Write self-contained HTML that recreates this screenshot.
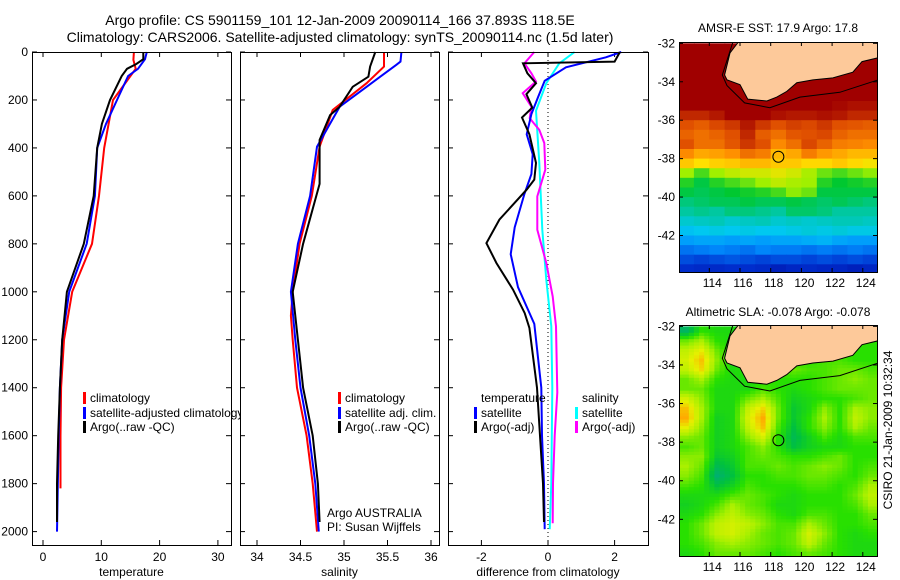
<!DOCTYPE html>
<html><head><meta charset="utf-8">
<style>
html,body{margin:0;padding:0;background:#fff;}
svg{display:block;font-family:"Liberation Sans",sans-serif;}
text{fill:#000;}
</style></head>
<body>
<svg id="fig" width="900" height="580" viewBox="0 0 900 580" xmlns="http://www.w3.org/2000/svg">
<rect width="900" height="580" fill="#fff"/>
<text x="340" y="25" font-size="14" text-anchor="middle">Argo profile: CS 5901159_101 12-Jan-2009 20090114_166 37.893S 118.5E</text>
<text x="340" y="42" font-size="14" text-anchor="middle">Climatology: CARS2006. Satellite-adjusted climatology: synTS_20090114.nc (1.5d later)</text>
<g id="g1"></g>
<g id="g2"></g>
<g id="g3"></g>
<g id="m1"></g>
<g id="m2"></g>
<text transform="translate(892,430) rotate(-90)" font-size="12" text-anchor="middle">CSIRO 21-Jan-2009 10:32:34</text>
</svg>
<script>
// ---- data ----
const tempClimDepth=[0,33,70,200,400,600,800,1000,1200,1400,1600,1820];
const tempClim=[15.6,15.5,15.9,12.0,10.5,9.6,8.4,5.0,3.6,3.1,3.0,3.0];
const tempSatDepth=[0,30,70,100,200,300,400,600,800,1000,1200,1400,1600,2000];
const tempSat=[17.8,17.5,16.3,14.6,12.7,10.8,9.3,8.9,7.5,4.5,3.3,2.9,2.7,2.4];
const tempArgoDepth=[0,30,50,70,100,200,300,400,600,800,1000,1200,1400,1600,1800,1960];
const tempArgo=[17.2,17.2,16.0,14.4,13.5,11.5,10.1,9.3,8.7,7.0,4.1,3.3,2.9,2.6,2.4,2.4];

const salClimDepth=[0,61,130,242,395,600,800,1000,1100,1200,1400,1600,1800,2000];
const salClim=[35.46,35.46,35.26,34.87,34.72,34.63,34.49,34.41,34.39,34.41,34.46,34.57,34.64,34.69];
const salSatDepth=[0,40,54,145,228,395,600,800,1000,1200,1400,1600,1800,2000];
const salSat=[35.66,35.65,35.6,35.26,34.95,34.69,34.61,34.47,34.39,34.44,34.5,34.6,34.67,34.71];
const salArgoDepth=[0,61,103,145,228,263,367,550,800,1000,1200,1400,1600,1800,1960];
const salArgo=[35.36,35.3,35.28,35.1,34.95,34.84,34.72,34.72,34.53,34.41,34.47,34.53,34.64,34.7,34.72];

const dTempArgoDepth=[0,40,47,89,130,176,232,273,343,463,532,574,699,797,880,991,1089,1151,1400,1600,1800,1960];
const dTempArgo=[2.16,2.0,-0.75,-0.62,-0.36,-0.65,-0.47,-0.78,-0.56,-0.36,-0.41,-0.64,-1.46,-1.85,-1.55,-1.05,-0.7,-0.56,-0.33,-0.24,-0.15,-0.12];
const dTempSatDepth=[0,22,64,120,189,259,343,426,509,592,731,843,981,1134,1400,1600,1800,1990];
const dTempSat=[2.2,1.74,0.54,-0.1,-0.3,-0.5,-0.64,-0.46,-0.5,-0.71,-1.0,-1.12,-0.9,-0.41,-0.2,-0.18,-0.12,-0.1];
const dSalArgoDepth=[0,47,89,123,172,228,276,325,380,491,602,741,880,1019,1144,1420,1600,1800,1965];
const dSalArgo=[-0.41,-0.71,-0.5,-0.36,-0.76,-0.5,-0.55,-0.26,-0.11,-0.08,-0.32,-0.32,-0.05,0.14,0.24,0.28,0.2,0.15,0.14];
const dSalSatDepth=[0,47,130,245,463,741,950,1144,1400,1800,1990];
const dSalSat=[0.8,0.34,-0.05,-0.36,-0.26,-0.17,-0.05,0.1,0.13,0.1,0.05];

const depthTicks=[0,200,400,600,800,1000,1200,1400,1600,1800,2000];
const tempTicks=[0,10,20,30];
const salTicks=[34,34.5,35,35.5,36];
const diffTicks=[-2,0,2];
const lonTicks=[114,116,118,120,122,124];
const latTicks=[-32,-34,-36,-38,-40,-42];

const sstGrid=[
[0.97,0.97,0.97,0.97,0.97,0.97,0.97,0.97,0.97,0.97,0.97,0.97,0.97],
[0.97,0.97,0.97,0.97,0.97,0.97,0.97,0.97,0.97,0.97,0.97,0.97,0.97],
[0.97,0.97,0.97,0.97,0.97,0.97,0.97,0.97,0.97,0.97,0.97,0.97,0.97],
[0.97,0.97,0.97,0.97,0.97,0.97,0.97,0.97,0.97,0.97,0.97,0.97,0.97],
[0.97,0.97,0.97,0.97,0.97,0.97,0.97,0.97,0.97,0.97,0.97,0.97,0.97],
[0.97,0.97,0.97,0.97,0.97,0.97,0.97,0.97,0.97,0.97,0.97,0.96,0.95],
[0.97,0.97,0.97,0.97,0.97,0.97,0.97,0.96,0.95,0.95,0.94,0.93,0.93],
[0.9,0.9,0.92,0.95,0.97,0.95,0.93,0.92,0.92,0.93,0.92,0.9,0.9],
[0.85,0.83,0.86,0.88,0.92,0.88,0.85,0.87,0.86,0.88,0.85,0.84,0.83],
[0.82,0.8,0.82,0.85,0.9,0.83,0.8,0.84,0.85,0.86,0.82,0.8,0.8],
[0.85,0.8,0.8,0.84,0.88,0.85,0.76,0.8,0.86,0.82,0.78,0.77,0.76],
[0.76,0.72,0.73,0.75,0.8,0.78,0.7,0.72,0.78,0.74,0.72,0.7,0.7],
[0.68,0.65,0.67,0.68,0.7,0.7,0.68,0.68,0.66,0.66,0.68,0.66,0.64],
[0.55,0.5,0.55,0.58,0.6,0.6,0.62,0.6,0.56,0.52,0.5,0.52,0.54],
[0.48,0.45,0.48,0.5,0.52,0.55,0.58,0.56,0.55,0.48,0.46,0.47,0.48],
[0.45,0.44,0.45,0.46,0.47,0.48,0.5,0.54,0.52,0.45,0.45,0.45,0.45],
[0.42,0.43,0.44,0.44,0.45,0.44,0.44,0.45,0.44,0.43,0.44,0.43,0.42],
[0.4,0.41,0.4,0.42,0.42,0.41,0.4,0.43,0.43,0.42,0.4,0.4,0.4],
[0.36,0.37,0.38,0.36,0.37,0.38,0.36,0.37,0.36,0.37,0.38,0.38,0.37],
[0.32,0.33,0.34,0.33,0.34,0.33,0.33,0.34,0.35,0.34,0.35,0.34,0.34],
[0.27,0.28,0.28,0.27,0.28,0.27,0.28,0.28,0.29,0.3,0.28,0.27,0.27],
[0.22,0.23,0.24,0.23,0.22,0.24,0.23,0.23,0.22,0.23,0.22,0.23,0.22],
[0.18,0.17,0.18,0.19,0.18,0.17,0.18,0.18,0.17,0.18,0.17,0.18,0.17],
[0.14,0.13,0.13,0.14,0.14,0.13,0.1,0.12,0.13,0.12,0.12,0.1,0.12]];
const slaGrid=[
[0.2,0.5,0.45,0.45,0.5,0.5,0.5,0.5,0.5,0.5,0.5,0.5,0.5],
[0.6,0.7,0.5,0.45,0.5,0.5,0.5,0.5,0.5,0.5,0.5,0.5,0.5],
[0.75,0.85,0.6,0.45,0.5,0.5,0.5,0.5,0.5,0.5,0.5,0.5,0.5],
[0.8,0.95,0.65,0.45,0.5,0.5,0.5,0.5,0.5,0.55,0.55,0.5,0.5],
[0.75,0.9,0.6,0.45,0.5,0.5,0.55,0.6,0.55,0.55,0.6,0.6,0.55],
[0.6,0.7,0.5,0.45,0.45,0.5,0.5,0.5,0.5,0.55,0.6,0.65,0.6],
[0.6,0.6,0.45,0.45,0.45,0.55,0.5,0.45,0.5,0.55,0.6,0.6,0.6],
[0.8,0.65,0.45,0.45,0.6,0.7,0.55,0.4,0.45,0.5,0.5,0.55,0.6],
[0.95,0.7,0.45,0.45,0.75,0.9,0.6,0.35,0.45,0.65,0.5,0.7,0.65],
[1.0,0.7,0.4,0.45,0.8,1.0,0.6,0.35,0.5,0.7,0.5,0.75,0.65],
[0.85,0.65,0.4,0.45,0.75,0.95,0.55,0.3,0.5,0.65,0.5,0.7,0.6],
[0.65,0.6,0.4,0.45,0.65,0.8,0.5,0.25,0.4,0.55,0.45,0.55,0.55],
[0.55,0.6,0.4,0.45,0.55,0.65,0.5,0.3,0.4,0.45,0.45,0.5,0.5],
[0.65,0.65,0.35,0.4,0.55,0.6,0.55,0.5,0.5,0.55,0.6,0.5,0.5],
[0.7,0.6,0.25,0.35,0.55,0.55,0.6,0.55,0.6,0.65,0.6,0.5,0.55],
[0.65,0.55,0.15,0.3,0.5,0.5,0.55,0.55,0.6,0.6,0.55,0.5,0.6],
[0.55,0.5,0.3,0.4,0.55,0.5,0.5,0.5,0.55,0.55,0.5,0.55,0.7],
[0.45,0.45,0.45,0.55,0.6,0.55,0.5,0.45,0.5,0.5,0.5,0.6,0.75],
[0.4,0.45,0.55,0.7,0.6,0.55,0.45,0.45,0.5,0.5,0.5,0.55,0.7],
[0.45,0.5,0.65,0.75,0.65,0.6,0.5,0.45,0.55,0.55,0.5,0.5,0.6],
[0.5,0.6,0.75,0.8,0.75,0.65,0.55,0.55,0.7,0.6,0.5,0.5,0.55],
[0.5,0.6,0.75,0.8,0.7,0.6,0.55,0.6,0.8,0.65,0.5,0.45,0.5],
[0.5,0.55,0.65,0.7,0.65,0.6,0.55,0.6,0.75,0.6,0.5,0.45,0.45],
[0.45,0.5,0.6,0.6,0.6,0.55,0.5,0.55,0.6,0.55,0.5,0.45,0.45]];
const landLon=[115.92,115.35,115.0,115.15,116.0,116.5,117.75,118.4,119.05,119.7,120.75,122.05,123.35,123.95,125.0,125.0];
const landLat=[-31.9,-32.5,-33.65,-33.9,-34.15,-34.9,-35.0,-34.8,-34.5,-34.05,-33.9,-33.8,-33.5,-32.95,-32.75,-31.9];
const shelfLon=[115.55,114.85,115.15,116.3,117.95,119.9,122.5,125.0];
const shelfLat=[-31.9,-33.65,-34.2,-35.1,-35.35,-34.8,-34.55,-33.9];
const argoLon=118.5, argoLat=-37.9;

// ---- drawing ----
const NS='http://www.w3.org/2000/svg';
function mk(tag,attrs,parent,txt){const e=document.createElementNS(NS,tag);for(const k in attrs)e.setAttribute(k,attrs[k]);if(txt!==undefined)e.textContent=txt;parent.appendChild(e);return e;}
const yD=d=>52+0.2398*d;
const PT=52,PB=545;

function panel(g,L,R,xf,ticks,fmt,xlabel,name){
  mk('rect',{x:L,y:PT,width:R-L,height:PB-PT,fill:'#fff',stroke:'none'},g);
  ticks.forEach(t=>{const x=xf(t);
    mk('line',{x1:x,y1:PB,x2:x,y2:PB-5,stroke:'#000'},g);
    mk('line',{x1:x,y1:PT,x2:x,y2:PT+5,stroke:'#000'},g);
    const tl=mk('text',{x:x,y:561,'font-size':12,'text-anchor':'middle'},g,fmt(t));
    
    
  });
  depthTicks.forEach(d=>{const y=yD(d);
    mk('line',{x1:L,y1:y,x2:L+5,y2:y,stroke:'#000'},g);
    mk('line',{x1:R,y1:y,x2:R-5,y2:y,stroke:'#000'},g);
  });
  const xt=mk('text',{x:(L+R)/2,y:576,'font-size':12,'text-anchor':'middle'},g,xlabel);
  
  
}
function frame(g,L,R){mk('rect',{x:L+0.5,y:PT+0.5,width:R-L,height:PB-PT,fill:'none',stroke:'#000'},g);}
function line(g,depths,vals,xf,color,name){
  const p=depths.map((d,i)=>(i?'L':'M')+xf(vals[i]).toFixed(1)+','+yD(d).toFixed(1)).join('');
  const e=mk('path',{d:p,fill:'none',stroke:color,'stroke-width':2},g);
  
  
}
function legend(g,x,y,color,label,name){
  if(color)mk('rect',{x:x-7,y:y-10,width:3,height:12,fill:color},g);
  const t=mk('text',{x:x,y:y,'font-size':12},g,label);
  
  
}

// panel 1
const g1=document.getElementById('g1');
const xT=t=>43+5.83*t;
panel(g1,32,231,xT,tempTicks,String,'temperature','temperature');
depthTicks.forEach(d=>{const t=mk('text',{x:28,y:yD(d)+4,'font-size':12,'text-anchor':'end'},g1,String(d));
  
  });
line(g1,tempClimDepth,tempClim,xT,'#ff0000','temp-climatology-line');
line(g1,tempSatDepth,tempSat,xT,'#0000ff','temp-satellite-line');
line(g1,tempArgoDepth,tempArgo,xT,'#000','temp-argo-line');
legend(g1,90,402,'#ff0000','climatology','legend-climatology');
legend(g1,90,417,'#0000ff','satellite-adjusted climatology','legend-satellite-adjusted');
legend(g1,90,431,'#000','Argo(..raw -QC)','legend-argo');
frame(g1,32,231);

// panel 2
const g2=document.getElementById('g2');
const xS=s=>257+87*(s-34);
panel(g2,240,439,xS,salTicks,String,'salinity','salinity');
line(g2,salClimDepth,salClim,xS,'#ff0000','sal-climatology-line');
line(g2,salSatDepth,salSat,xS,'#0000ff','sal-satellite-line');
line(g2,salArgoDepth,salArgo,xS,'#000','sal-argo-line');
legend(g2,345,402,'#ff0000','climatology','legend-sal-climatology');
legend(g2,345,417,'#0000ff','satellite adj. clim.','legend-sal-satellite');
legend(g2,345,431,'#000','Argo(..raw -QC)','legend-sal-argo');
legend(g2,327,517,null,'Argo AUSTRALIA','argo-australia-label');
legend(g2,327,531,null,'PI: Susan Wijffels','pi-label');
frame(g2,240,439);

// panel 3
const g3=document.getElementById('g3');
const xV=v=>548+33.3*v;
panel(g3,448,648,xV,diffTicks,String,'difference from climatology','difference');
mk('line',{x1:xV(0),y1:PT,x2:xV(0),y2:PB,stroke:'#000','stroke-dasharray':'1,3'},g3);
line(g3,dSalSatDepth,dSalSat,xV,'#00ffff','diff-sal-satellite-line');
line(g3,dSalArgoDepth,dSalArgo,xV,'#ff00ff','diff-sal-argo-line');
line(g3,dTempSatDepth,dTempSat,xV,'#0000ff','diff-temp-satellite-line');
line(g3,dTempArgoDepth,dTempArgo,xV,'#000','diff-temp-argo-line');
legend(g3,481,402,null,'temperature','legend-temperature-heading');
legend(g3,481,417,'#0000ff','satellite','legend-temp-satellite');
legend(g3,481,431,'#000','Argo(-adj)','legend-temp-argo');
legend(g3,582,402,null,'salinity','legend-salinity-heading');
legend(g3,582,417,'#00ffff','satellite','legend-sal-sat');
legend(g3,582,431,'#ff00ff','Argo(-adj)','legend-sal-argo-adj');
frame(g3,448,648);

// maps
function cmap(stops,v){
  for(let i=1;i<stops.length;i++){if(v<=stops[i][0]){const a=stops[i-1],b=stops[i],f=(v-a[0])/(b[0]-a[0]||1);
    const c=[0,1,2].map(k=>Math.round(a[1][k]+(b[1][k]-a[1][k])*f));return 'rgb('+c.join(',')+')';}}
  const l=stops[stops.length-1][1];return 'rgb('+l.join(',')+')';
}
const sstStops=[[0,[0,0,144]],[0.15,[0,48,208]],[0.25,[0,144,255]],[0.33,[0,200,240]],[0.4,[0,200,160]],[0.46,[0,200,48]],[0.55,[160,240,0]],[0.65,[255,224,0]],[0.75,[255,144,0]],[0.85,[224,80,0]],[0.95,[160,0,0]],[1,[160,0,0]]];
const slaStops=[[0,[0,160,160]],[0.3,[0,192,64]],[0.5,[40,224,0]],[0.7,[170,240,0]],[0.85,[230,240,0]],[1,[255,170,0]]];
function sample(grid,fr,fc){
  const R=grid.length,C=grid[0].length;
  fr=Math.max(0,Math.min(R-1,fr));fc=Math.max(0,Math.min(C-1,fc));
  const r0=Math.floor(fr),c0=Math.floor(fc),r1=Math.min(R-1,r0+1),c1=Math.min(C-1,c0+1),a=fr-r0,b=fc-c0;
  return grid[r0][c0]*(1-a)*(1-b)+grid[r1][c0]*a*(1-b)+grid[r0][c1]*(1-a)*b+grid[r1][c1]*a*b;
}
function map(id,top,bottom,grid,stops,title,titleY,name,sub){
  const g=document.getElementById(id);
  const L=679,R=877;
  const xL=lon=>709.3+(lon-114)*15.35;
  const yL=lat=>top+(-31.93-lat)*(bottom-top)/(43.9-31.93);
  const cid='clip'+id;
  const cp=mk('clipPath',{id:cid},g);mk('rect',{x:L,y:top,width:R-L,height:bottom-top},cp);
  const cg=mk('g',{'clip-path':'url(#'+cid+')'},g);
  const nr=grid.length*sub,nc=grid[0].length*sub;
  for(let r=0;r<nr;r++)for(let c=0;c<nc;c++){
    const v=sub===1?grid[r][c]:sample(grid,(r+0.5)/sub-0.5,(c+0.5)/sub-0.5);
    const lon0=112+c/sub, lat0=-32-0.5*r/sub;
    const x0=xL(lon0),x1=xL(lon0+1/sub),y0=yL(lat0),y1=yL(lat0-0.5/sub);
    const e=mk('rect',{x:x0.toFixed(1),y:y0.toFixed(1),width:(x1-x0+0.5).toFixed(1),height:(y1-y0+0.5).toFixed(1),fill:cmap(stops,v)},cg);
    
    
  }
  const lp=landLon.map((lo,i)=>(i?'L':'M')+xL(lo).toFixed(1)+','+yL(landLat[i]).toFixed(1)).join('')+'Z';
  const land=mk('path',{d:lp,fill:'#fdc99a',stroke:'#000','stroke-width':1},cg);
  
  
  const sp=shelfLon.map((lo,i)=>(i?'L':'M')+xL(lo).toFixed(1)+','+yL(shelfLat[i]).toFixed(1)).join('');
  mk('path',{d:sp,fill:'none',stroke:'#000','stroke-width':1},cg);
  const c=mk('circle',{cx:xL(argoLon),cy:yL(argoLat),r:5.5,fill:'none',stroke:'#000','stroke-width':1},g);
  
  
  mk('rect',{x:L+0.5,y:top+0.5,width:R-L,height:bottom-top,fill:'none',stroke:'#000'},g);
  lonTicks.forEach(lo=>{const x=xL(lo);
    mk('line',{x1:x,y1:top,x2:x,y2:top+4,stroke:'#000'},g);
    mk('line',{x1:x,y1:bottom,x2:x,y2:bottom-4,stroke:'#000'},g);
    const t=mk('text',{x:x+3,y:bottom+15,'font-size':12,'text-anchor':'middle'},g,String(lo));
    
    });
  latTicks.forEach(la=>{const y=yL(la);
    mk('line',{x1:L,y1:y,x2:L+4,y2:y,stroke:'#000'},g);
    mk('line',{x1:R,y1:y,x2:R-4,y2:y,stroke:'#000'},g);
    const t=mk('text',{x:L-4,y:y+4,'font-size':12,'text-anchor':'end'},g,String(la));
    
    });
  const tt=mk('text',{x:(L+R)/2,y:titleY,'font-size':12,'text-anchor':'middle'},g,title);
  
  
}
map('m1',42,272,sstGrid,sstStops,'AMSR-E SST: 17.9 Argo: 17.8',32,'sst-map',1);
map('m2',325,556,slaGrid,slaStops,'Altimetric SLA: -0.078 Argo: -0.078',316,'sla-map',3);
</script>
</body></html>
